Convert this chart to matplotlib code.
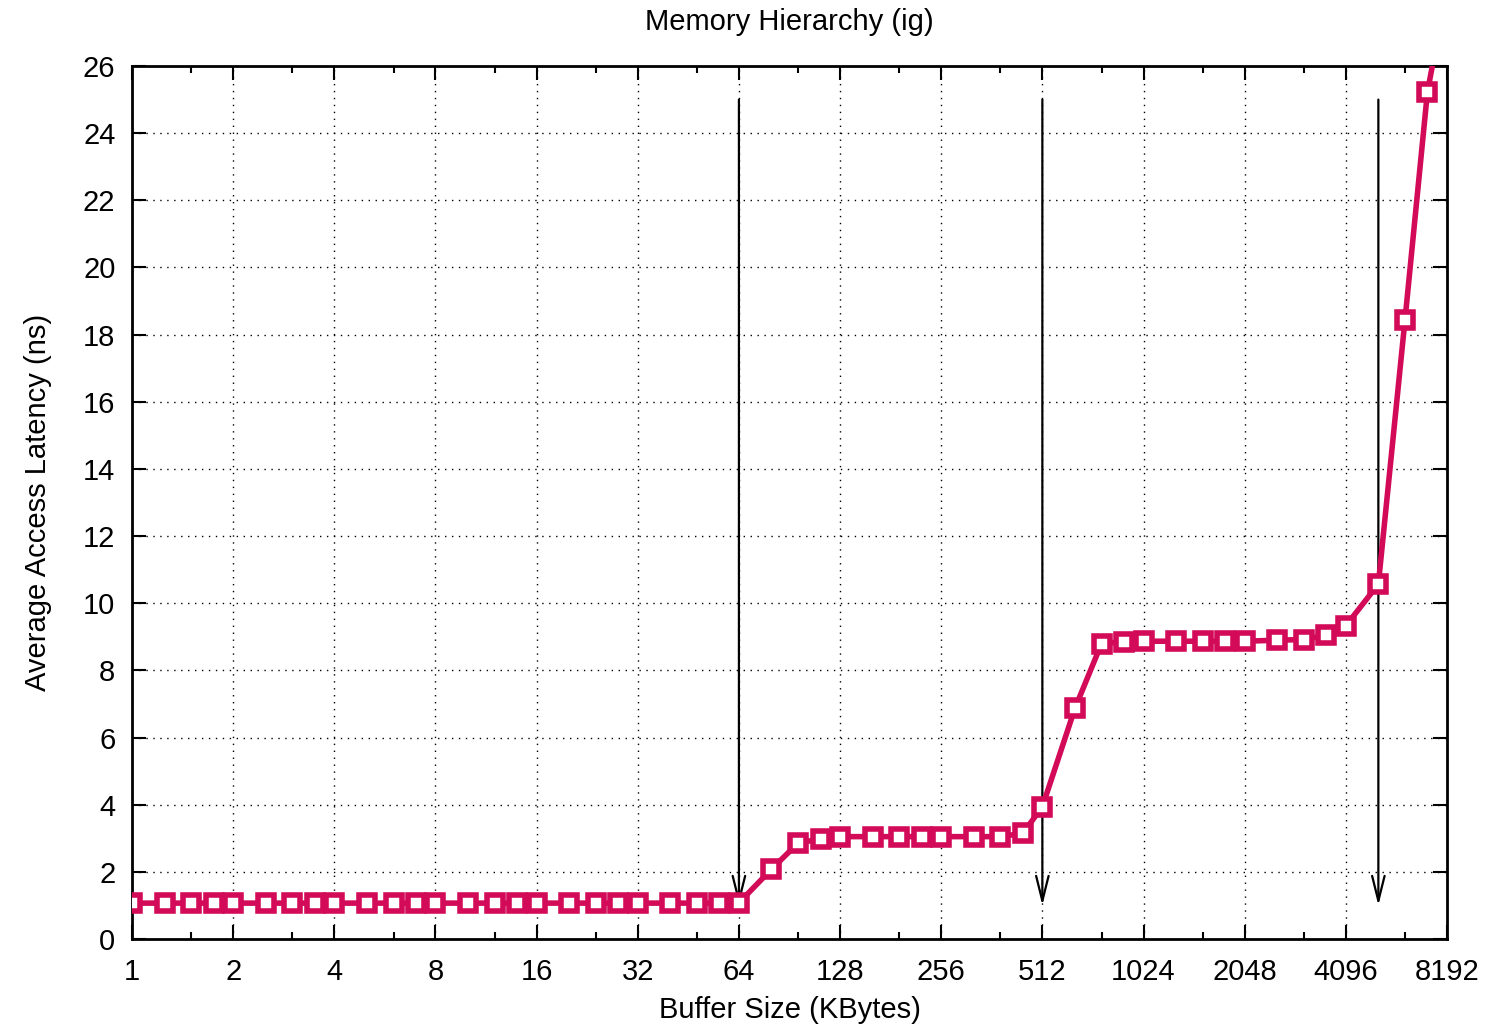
import numpy as np
from matplotlib import pyplot as plt
from matplotlib.ticker import FixedLocator, NullFormatter

# buffer sizes in KBytes and measured latency in ns
sizes = [1, 1.25, 1.5, 1.75, 2, 2.5, 3, 3.5, 4, 5, 6, 7, 8, 10, 12, 14, 16,
         20, 24, 28, 32, 40, 48, 56, 64, 80, 96, 112, 128, 160, 192, 224, 256,
         320, 384, 448, 512, 640, 768, 896, 1024, 1280, 1536, 1792, 2048,
         2560, 3072, 3584, 4096, 5120, 6144, 7168, 8192]
latency = [1.07] * 24 + [1.08,
           2.08, 2.86, 2.98, 3.05, 3.05, 3.05, 3.05, 3.05, 3.05, 3.05, 3.15,
           3.94, 6.87, 8.80, 8.85, 8.87, 8.87, 8.87, 8.87, 8.87,
           8.90, 8.92, 9.05, 9.33, 10.57, 18.43, 25.23, 28.3]

tick_vals = [1, 2, 4, 8, 16, 32, 64, 128, 256, 512, 1024, 2048, 4096, 8192]
minor_vals = [1.5 * v for v in tick_vals[:-1]]
y_ticks = list(range(0, 27, 2))
arrow_x = [64, 512, 5120]   # cache size markers

plt.rcParams['font.family'] = ['Liberation Sans', 'DejaVu Sans']
plt.rcParams['font.size'] = 21

fig = plt.figure(figsize=(14.92, 10.30), dpi=100)
ax = fig.add_axes([0.0885, 0.0883, 0.9698 - 0.0885, 0.9359 - 0.0883])

ax.set_xscale('log', base=2)
ax.set_xlim(1, 8192)
ax.set_ylim(0, 26)

ax.xaxis.set_major_locator(FixedLocator(tick_vals))
ax.set_xticks(tick_vals)
ax.set_xticklabels([str(v) for v in tick_vals])
ax.xaxis.set_minor_locator(FixedLocator(minor_vals))
ax.xaxis.set_minor_formatter(NullFormatter())
ax.set_yticks(y_ticks)
ax.set_yticklabels([str(v) for v in y_ticks])

ax.tick_params(which='both', direction='in', top=True, right=True, width=1.5)
ax.tick_params(axis='x', which='major', length=10, pad=14)
ax.tick_params(axis='y', which='major', length=10, pad=12)
ax.tick_params(which='minor', length=5)
for s in ax.spines.values():
    s.set_linewidth(2)

ax.grid(True, which='major', linestyle=(0, (1, 4)), color='black', linewidth=1)

for xa in arrow_x:
    ax.annotate('', xy=(xa, 1.0), xytext=(xa, 25.0),
                arrowprops=dict(arrowstyle='->,head_length=1.8,head_width=0.45',
                                mutation_scale=10, color='black', lw=1.6,
                                shrinkA=0, shrinkB=0))

ax.plot(sizes, latency, color='#d20a58', linewidth=4, marker='s',
        markersize=11.5, markerfacecolor='white', markeredgecolor='#d20a58',
        markeredgewidth=4, zorder=3)

ax.set_title('Memory Hierarchy (ig)', fontsize=21, pad=26)
ax.set_xlabel('Buffer Size (KBytes)', labelpad=7)
ax.set_ylabel('Average Access Latency (ns)', labelpad=22)

fig.savefig('out.png', dpi=100)
